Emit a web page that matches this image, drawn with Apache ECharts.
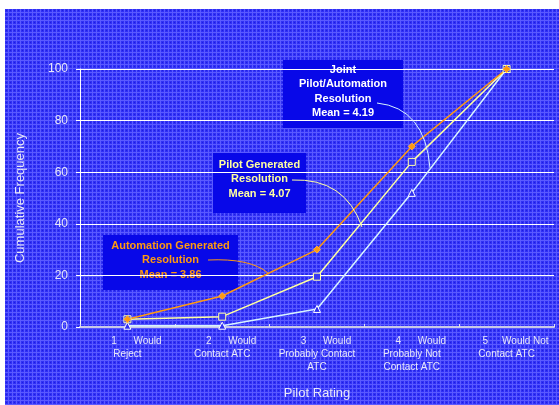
<!DOCTYPE html>
<html>
<head>
<meta charset="utf-8">
<script src="https://cdn.jsdelivr.net/npm/echarts@6/dist/echarts.min.js"></script>
<style>
  html, body { margin: 0; padding: 0; }
  #chart { width: 559px; height: 405px; }
</style>
</head>
<body>
<div id="chart"></div>
<script>
const categories = [
  "1      Would\nReject",
  "2      Would\nContact ATC",
  "3      Would\nProbably Contact\nATC",
  "4      Would\nProbably Not\nContact ATC",
  "5     Would Not\nContact ATC"
];
const automationValues = [3, 12, 30, 70, 100];
const pilotValues = [3, 4, 19.5, 64, 100];
const jointValues = [0.5, 0.5, 7, 52, 100];
const yTicks = { min: 0, max: 100, interval: 20 };

// textured blue background, like the slide fill
function makePattern() {
  const c = document.createElement("canvas");
  c.width = 4;
  c.height = 4;
  const ctx = c.getContext("2d");
  ctx.fillStyle = "#3030f6";
  ctx.fillRect(0, 0, 4, 4);
  ctx.fillStyle = "#5a5aff";
  ctx.fillRect(0, 0, 4, 1);
  ctx.fillRect(0, 0, 1, 4);
  ctx.fillStyle = "#1f1fdc";
  ctx.fillRect(2, 2, 1, 1);
  return c;
}

const chart = echarts.init(document.getElementById("chart"));

const labelFont = "Liberation Sans, Arial, sans-serif";

function note(x, y, w, h, text, color, dy) {
  return {
    type: "group",
    left: x,
    top: y,
    children: [
      {
        type: "rect",
        shape: { x: 0, y: 0, width: w, height: h },
        style: { fill: "#0808e8" }
      },
      {
        type: "text",
        x: w / 2,
        y: h / 2 + dy,
        style: {
          text: text,
          fill: color,
          font: "bold 11px " + labelFont,
          lineHeight: 14.5,
          align: "center",
          verticalAlign: "middle"
        }
      }
    ]
  };
}

function leader(x1, y1, cx, cy, x2, y2, color) {
  return {
    type: "bezierCurve",
    shape: { x1: x1, y1: y1, cpx1: cx, cpy1: cy, x2: x2, y2: y2 },
    style: { stroke: color, lineWidth: 1, fill: null },
    z: 10
  };
}

chart.setOption({
  backgroundColor: { image: makePattern(), repeat: "repeat" },
  animation: false,
  grid: { left: 80, right: 5, top: 69, bottom: 76 },
  xAxis: {
    type: "category",
    data: categories,
    boundaryGap: true,
    name: "Pilot Rating",
    nameLocation: "middle",
    nameGap: 60,
    nameTextStyle: { color: "#e8e8f8", fontSize: 13, fontFamily: labelFont },
    axisLine: { lineStyle: { color: "#c8c8e8", width: 2 } },
    axisTick: { show: true, inside: true, length: 3, lineStyle: { color: "#e0e0f0" } },
    axisLabel: {
      color: "#e8e8f8",
      fontSize: 10,
      fontFamily: labelFont,
      lineHeight: 13,
      margin: 8,
      interval: 0,
      formatter: function (v) {
        const lines = v.split("\n");
        return "{first|" + lines[0] + "}\n" + lines.slice(1).join("\n");
      },
      rich: {
        first: {
          color: "#e8e8f8",
          fontSize: 10,
          fontFamily: labelFont,
          lineHeight: 13,
          padding: [0, 0, 0, 18]
        }
      }
    }
  },
  yAxis: {
    type: "value",
    min: yTicks.min,
    max: yTicks.max,
    interval: yTicks.interval,
    name: "Cumulative Frequency",
    nameLocation: "middle",
    nameGap: 53,
    nameTextStyle: { color: "#e8e8f8", fontSize: 13, fontFamily: labelFont },
    axisLine: { show: true, lineStyle: { color: "#ffffff", width: 1 } },
    axisTick: { show: true, length: 4, lineStyle: { color: "#ffffff" } },
    axisLabel: { color: "#e8e8f8", fontSize: 12, fontFamily: labelFont, margin: 12 },
    splitLine: { lineStyle: { color: "#ffffff", width: 1 } }
  },
  series: [
    {
      name: "Joint Pilot/Automation Resolution",
      type: "line",
      data: jointValues,
      symbol: "triangle",
      symbolSize: 7,
      lineStyle: { color: "#d8f4ff", width: 1.5 },
      itemStyle: { color: "#2f2ff0", borderColor: "#ffffff", borderWidth: 1 }
    },
    {
      name: "Pilot Generated Resolution",
      type: "line",
      data: pilotValues,
      symbol: "rect",
      symbolSize: 7,
      lineStyle: { color: "#ffffa0", width: 1.5 },
      itemStyle: { color: "#3a3af0", borderColor: "#ffffa8", borderWidth: 1 }
    },
    {
      name: "Automation Generated Resolution",
      type: "line",
      data: automationValues,
      symbol: "diamond",
      symbolSize: 7,
      lineStyle: { color: "#ff9a10", width: 1.5 },
      itemStyle: { color: "#ff9a10", borderColor: "#ffb040", borderWidth: 1 }
    }
  ],
  graphic: [
    // white margin at the top and left edge of the slide image
    { type: "rect", left: 0, top: 0, shape: { width: 559, height: 9 }, style: { fill: "#ffffff" } },
    { type: "rect", left: 0, top: 0, shape: { width: 5, height: 405 }, style: { fill: "#ffffff" } },
    note(103, 235, 135, 55, "Automation Generated\nResolution\nMean = 3.86", "#ff9a10", -2.5),
    note(213, 153, 93, 60, "Pilot Generated\nResolution\nMean = 4.07", "#ffffa0", -4),
    note(283, 60, 120, 68, "Joint\nPilot/Automation\nResolution\nMean = 4.19", "#ffffff", -2.5),
    leader(208, 260, 250, 258, 268, 273, "#ff9a10"),
    leader(292, 180, 345, 178, 362, 227, "#ffffa0"),
    leader(377, 103, 425, 108, 430, 168, "#d8f4ff")
  ]
});
</script>
</body>
</html>
